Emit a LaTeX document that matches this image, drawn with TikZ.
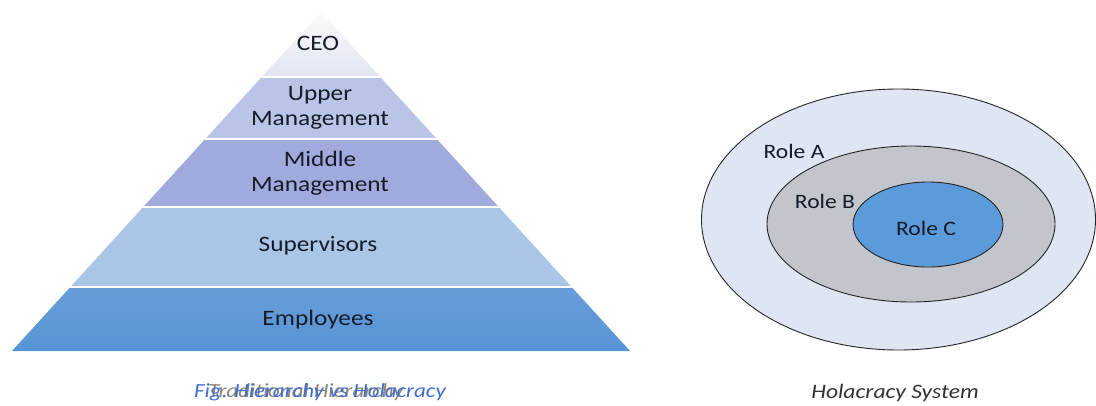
\documentclass[tikz,border=0pt]{standalone}
\usepackage{fontspec}
\newfontfamily\calfont[FakeStretch=1.15]{Carlito}
\usetikzlibrary{positioning,shapes.geometric}
\definecolor{ceoC}{HTML}{E1E5F0}
\definecolor{upperC}{HTML}{BAC4E6}
\definecolor{middleC}{HTML}{A0AADC}
\definecolor{superC}{HTML}{AAC6E7}
\definecolor{emplC}{HTML}{5793D5}
\definecolor{roleAC}{HTML}{E0E5F3}
\definecolor{roleBC}{HTML}{C2C5CC}
\definecolor{roleCC}{HTML}{5C9BD9}
\definecolor{txtC}{HTML}{161B28}
\definecolor{capblue}{HTML}{3F6FD0}
\definecolor{capdark}{HTML}{6A5A48}
\tikzset{
  x=1pt, y=-1pt,
  lbl/.style={font=\calfont\fontsize{22}{25}\selectfont, text=txtC, align=center, inner sep=0pt},
  rolelbl/.style={font=\calfont\fontsize{20.5}{24}\selectfont, text=txtC, inner sep=0pt},
  ring/.style={draw=black!85, line width=0.9pt, ellipse, inner sep=0pt},
  caption/.style={font=\calfont\itshape\fontsize{20}{24}\selectfont, inner sep=0pt}
}
\begin{document}
\begin{tikzpicture}
\useasboundingbox[fill=white] (0,0) rectangle (1096,405);
% pyramid
\begin{scope}
  \clip (321,12) -- (630,351) -- (12,351) -- cycle;
  \shade[top color=white, bottom color=ceoC] (0,0) rectangle (650,77);
  \fill[upperC] (0,77) rectangle (650,139);
  \fill[middleC] (0,139) rectangle (650,207);
  \fill[superC] (0,207) rectangle (650,287);
  \shade[top color=emplC!90!white, bottom color=emplC] (0,287) rectangle (650,352);
  \foreach \yy in {77,139,207,287} \draw[white, line width=2pt] (0,\yy) -- (650,\yy);
\end{scope}
\node[lbl] (ceo) at (318,43) {CEO};
\node[lbl] (upper) at (320,108) {Upper\\Management};
\node[lbl] (middle) at (320,173) {Middle\\Management};
\node[lbl] (super) at (318,246) {Supervisors};
\node[lbl] (empl) at (318,320) {Employees};
% caption left (two captions printed over each other, as in the reference)
\node[caption, text=capdark, opacity=0.75] (cap2) at (306,392) {Traditional Hierarchy};
\node[caption, text=capblue] (cap1) at (320,392) {Fig. Hierarchy vs Holacracy};
% holacracy
\node[ring, fill=roleAC, minimum width=394pt, minimum height=261pt] (ra) at (898.5,219.5) {};
\node[ring, fill=roleBC, minimum width=288pt, minimum height=156pt] (rb) at (911,224) {};
\node[ring, fill=roleCC, minimum width=150pt, minimum height=85pt] (rc) at (928,224.5) {};
\node[rolelbl] (la) at (794,151) {Role A};
\node[rolelbl] (lb) at (825,201) {Role B};
\node[rolelbl] (lc) at (926,228) {Role C};
\node[caption, text=black!80, font=\calfont\itshape\fontsize{20.5}{24}\selectfont] (cap3) at (895,393) {Holacracy System};
\end{tikzpicture}
\end{document}
